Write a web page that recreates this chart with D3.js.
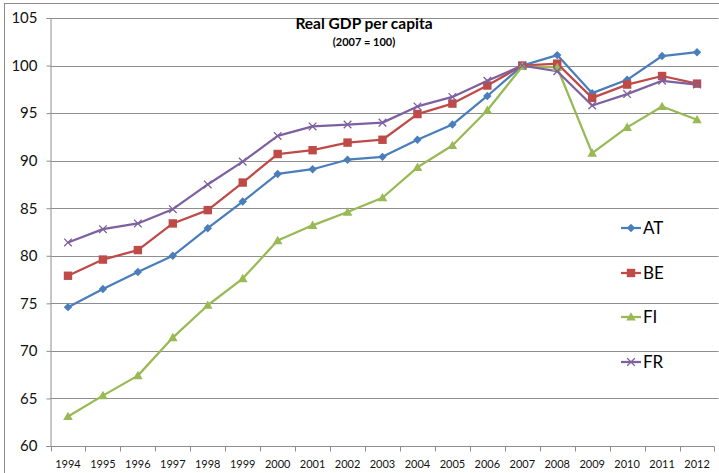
<!DOCTYPE html>
<html><head><meta charset="utf-8">
<script src="https://cdn.jsdelivr.net/npm/d3@7/dist/d3.min.js"></script>
<style>body{margin:0;background:#fff}svg{display:block}text{font-family:Lato,"Open Sans",sans-serif}</style>
</head><body>
<svg id="c" width="719" height="473"></svg>
<script>
const years = ["1994","1995","1996","1997","1998","1999","2000","2001","2002","2003","2004","2005","2006","2007","2008","2009","2010","2011","2012"];
const AT = [74.6,76.5,78.3,80.0,82.9,85.7,88.6,89.1,90.1,90.4,92.2,93.8,96.8,100.0,101.1,97.1,98.5,101.0,101.4];
const BE = [77.9,79.6,80.6,83.4,84.8,87.7,90.7,91.1,91.9,92.2,94.9,96.0,97.9,100.0,100.2,96.6,98.0,98.9,98.1];
const FI = [63.1,65.3,67.4,71.4,74.8,77.6,81.6,83.2,84.6,86.1,89.3,91.6,95.3,99.9,99.8,90.8,93.5,95.7,94.3];
const FR = [81.4,82.8,83.4,84.9,87.5,89.9,92.6,93.6,93.8,94.0,95.7,96.7,98.4,100.0,99.4,95.8,97.0,98.4,98.0];
const yTicks = [60,65,70,75,80,85,90,95,100,105];
const seriesNames = ["AT","BE","FI","FR"];
const seriesColors = ["#4a7ebb","#be4b48","#98b954","#7d60a0"];
const seriesShapes = ["diamond","square","triangle","x"];
const title = "Real GDP per capita";
const subtitle = "(2007 = 100)";

const series = [AT,BE,FI,FR].map((v,i)=>({name:seriesNames[i],values:v,color:seriesColors[i],shape:seriesShapes[i]}));

const svg = d3.select("#c");
const L = 50.5, R = 714.5, T = 18, B = 446;
svg.append("rect").attr("x",4.5).attr("y",3.5).attr("width",730).attr("height",480)
  .attr("fill","#fff").attr("stroke","#8c8c8c").attr("stroke-width",1);

const x = d3.scaleBand().domain(years).range([L,R]);
const y = d3.scaleLinear().domain([60,105]).range([B,T]);
const cx = d => x(d)+x.bandwidth()/2;

// gridlines
svg.append("g").selectAll("line").data(yTicks.filter(t=>t>60)).join("line")
  .attr("x1",L).attr("x2",R+4).attr("y1",d=>Math.round(y(d))+0.5).attr("y2",d=>Math.round(y(d))+0.5)
  .attr("stroke","#8e8e8e").attr("stroke-width",1);

// y axis
const ya = svg.append("g").attr("transform",`translate(${L},0)`)
  .call(d3.axisLeft(y).tickValues(yTicks).tickSize(4).tickPadding(9).tickFormat(d3.format("d")));
ya.select(".domain").attr("stroke","#8e8e8e");
ya.selectAll(".tick line").attr("stroke","#8e8e8e");
ya.selectAll("text").attr("font-size",15).attr("fill","#111");

// x axis
const xa = svg.append("g").attr("transform",`translate(0,${Math.round(B)+0.5})`);
xa.append("line").attr("x1",L).attr("x2",R).attr("stroke","#8e8e8e");
const bounds = years.map(d=>x(d)).concat([x(years[years.length-1])+x.bandwidth()]);
xa.selectAll("line.t").data(bounds).join("line").attr("class","t")
  .attr("x1",d=>Math.round(d)+0.5).attr("x2",d=>Math.round(d)+0.5).attr("y1",0).attr("y2",5).attr("stroke","#8e8e8e");
xa.selectAll("text").data(years).join("text")
  .attr("x",d=>cx(d)).attr("y",21).attr("text-anchor","middle").attr("font-size",11).attr("fill","#111").text(d=>d);

function marker(g, shape, color){
  if(shape==="diamond"){
    g.append("path").attr("d","M0,-4.2L4.2,0L0,4.2L-4.2,0Z").attr("fill",color);
  } else if(shape==="square"){
    g.append("rect").attr("x",-4.2).attr("y",-4.2).attr("width",8.4).attr("height",8.4).attr("fill",color);
  } else if(shape==="triangle"){
    g.append("path").attr("d","M0,-4.8L4.8,3.6L-4.8,3.6Z").attr("fill",color);
  } else {
    g.append("path").attr("d","M-3.8,-3.8L3.8,3.8M-3.8,3.8L3.8,-3.8").attr("stroke",color).attr("stroke-width",1.3).attr("fill","none");
  }
}

const line = d3.line().x((d,i)=>cx(years[i])).y(d=>y(d));
series.forEach(s=>{
  svg.append("path").datum(s.values).attr("d",line).attr("fill","none")
    .attr("stroke",s.color).attr("stroke-width",2.25).attr("stroke-linejoin","round");
});
series.forEach(s=>{
  s.values.forEach((v,i)=>{
    const g = svg.append("g").attr("transform",`translate(${cx(years[i])},${y(v)})`);
    marker(g,s.shape,s.color);
  });
});

// title
svg.append("text").attr("x",364).attr("y",29).attr("text-anchor","middle")
  .attr("font-size",15.5).attr("font-weight","bold").attr("fill","#000").text(title);
svg.append("text").attr("x",364).attr("y",46).attr("text-anchor","middle")
  .attr("font-size",11).attr("font-weight","bold").attr("fill","#000").text(subtitle);

// legend
const legY = [228,273,317,362];
series.forEach((s,i)=>{
  const g = svg.append("g").attr("transform",`translate(621,${legY[i]})`);
  g.append("line").attr("x1",0).attr("x2",20).attr("stroke",s.color).attr("stroke-width",2.25);
  const m = g.append("g").attr("transform","translate(10,0)");
  marker(m,s.shape,s.color);
  g.append("text").attr("x",22).attr("y",6).attr("font-size",17).attr("fill","#000").text(s.name);
});
</script>
</body></html>
